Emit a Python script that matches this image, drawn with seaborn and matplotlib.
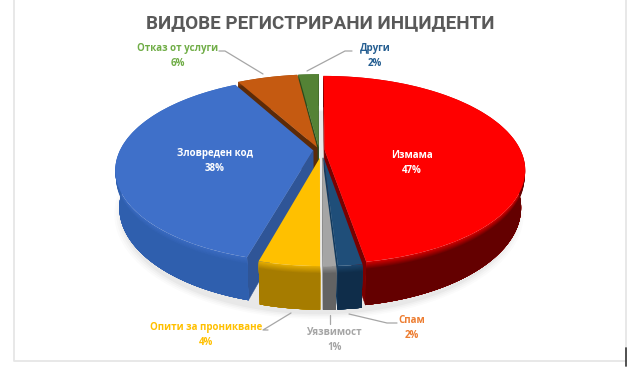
import numpy as np
import matplotlib
matplotlib.use("Agg")
import matplotlib.pyplot as plt
import seaborn as sns
from matplotlib.transforms import Transform
from matplotlib.colors import to_rgb

categories = ["Измама", "Спам", "Уязвимост", "Опити за проникване", "Зловреден код", "Отказ от услуги", "Други"]
values = [47.4, 1.7, 0.9, 4.3, 37.7, 6.0, 2.0]
percent_labels = ["47%", "2%", "1%", "4%", "38%", "6%", "2%"]
explode = [0.028, 0.085, 0.085, 0.085, 0.03, 0.03, 0.03]
radii = [1.0, 0.93, 0.93, 0.93, 0.985, 1.0, 1.0]
nudge = [0.0, 0.014, 0.014, 0.016, 0.0, 0.0, 0.0]
top_colors = ["#FF0000", "#1F4E79", "#A5A5A5", "#FFC000", "#3F70C9", "#C55A11", "#548235"]
wall_colors = ["#640000", "#0F2D4A", "#636363", "#A67C00", "#2F5FAE", "#5C2A08", "#2D4A1C"]
cut_colors = ["#7A0000", "#123A5E", "#7A7A7A", "#B88A00", "#2F5597", "#5C2A08", "#2D4A1C"]
label_colors = ["#FFFFFF", "#ED7D31", "#A5A5A5", "#FFC000", "#FFFFFF", "#70AD47", "#255E91"]
label_xy = [(412, 163), (412, 328), (335, 340), (206, 335), (215, 161), (178, 56), (375, 56)]
leaders = [None,
           [(397, 323), (387, 323), (349, 314)],
           [(330, 324), (330, 315)],
           [(268, 330), (263, 330), (291, 313)],
           None,
           [(219, 51), (225, 51), (263, 74)],
           [(352, 51), (345, 51), (307, 71)]]
draw_order = [6, 5, 4, 0, 1, 2, 3]

CX, CY, B, A, K, H, F = 319.0, 150.0, 196.0, 89.7, 0.213, 36.0, 0.98


def project(x, y, z=0.0):
    x, y = np.asarray(x, float), np.asarray(y, float)
    v = -y
    d = 1 - K * v
    f = 1 - (1 - F) * z
    return CX + f * B * x / d, CY + f * A * v / d + z * H / d


class Perspective(Transform):
    input_dims = output_dims = 2
    is_separable = False
    has_inverse = False

    def transform_non_affine(self, values):
        px, py = project(values[:, 0], values[:, 1])
        return np.column_stack([px, py])


def blend(a, b, t):
    a, b = np.array(to_rgb(a)), np.array(to_rgb(b))
    return tuple(a * (1 - t) + b * t)


sns.set_theme(style="white")
plt.rcParams["font.family"] = ["Open Sans", "DejaVu Sans"]
palette = sns.color_palette(top_colors)

fig = plt.figure(figsize=(6.38, 3.83), dpi=100, facecolor="white")
ax = fig.add_axes([0, 0, 1, 1])
wedges, _ = ax.pie(values, explode=explode, colors=palette, startangle=90,
                   counterclock=False, wedgeprops={"linewidth": 0})
ax.set_aspect("auto")
ax.set_xlim(0, 638)
ax.set_ylim(383, 0)
ax.axis("off")

# soft shadow under the pie
ang = np.radians(np.linspace(0, 360, 181))
for grow, alpha in [(1.035, 0.015), (1.025, 0.02), (1.015, 0.025), (1.005, 0.03)]:
    sx, sy = project(grow * np.cos(ang), grow * np.sin(ang) - 0.02, 1.0)
    ax.fill(sx, sy + 3, color="black", alpha=alpha, lw=0, zorder=1)

persp = Perspective()
Z = np.array([0.0, 0.02, 0.04, 0.06, 0.08, 0.1, 0.12, 0.14, 0.16, 0.2])
for rank, i in enumerate(draw_order):
    w = wedges[i]
    base = 10 + rank * 10
    w.set_radius(radii[i])
    w.set_center((w.center[0] + nudge[i], w.center[1]))
    c0, c1 = w.center
    r = w.r
    t1, t2 = np.radians(w.theta1), np.radians(w.theta2)
    th = np.linspace(t1, t2, max(3, int((w.theta2 - w.theta1) * 1.5)))

    # radial cut walls that face the viewer
    ap = np.array(project(c0, c1))
    rims = [np.array(project(c0 + r * np.cos(t), c1 + r * np.sin(t))) for t in (t1, t2)]
    for k, t in enumerate((t1, t2)):
        e = rims[k] - ap
        n = rims[1 - k] - ap
        if (e[0] * n[1] - e[1] * n[0]) * e[0] >= 0:
            continue
        xs = np.array([c0, c0 + r * np.cos(t)])
        ys = np.array([c1, c1 + r * np.sin(t)])
        px0, py0 = project(xs, ys, 0.0)
        px1, py1 = project(xs, ys, 1.0)
        ax.fill([px0[0], px0[1], px1[1], px1[0]], [py0[0], py0[1], py1[1], py1[0]],
                color=cut_colors[i], lw=0.3, zorder=base)

    # outer rim: each band runs to the wall's foot and the next paints over it, so no seams
    xs, ys = c0 + r * np.cos(th), c1 + r * np.sin(th)
    lx, ly = project(xs, ys, 1.0)
    for j, za in enumerate(Z):
        ux, uy = project(xs, ys, za)
        col = blend(top_colors[i], wall_colors[i], min(1.0, 0.3 + za / 0.16 * 0.7))
        ax.fill(np.r_[ux, lx[::-1]], np.r_[uy, ly[::-1]], color=col, lw=0,
                zorder=base + 1 + j * 0.01)
    w.set_transform(persp + ax.transData)
    w.set_zorder(base + 2)
    w.set_clip_on(False)

for name, pct, col, (lx, ly), lead in zip(categories, percent_labels, label_colors, label_xy, leaders):
    ax.text(lx, ly, f"{name}\n{pct}", color=col, ha="center", va="center", fontsize=7.0,
            fontweight="bold", linespacing=1.38, zorder=200)
    if lead:
        ax.plot(*zip(*lead), color="#A6A6A6", lw=0.9, zorder=199)

ax.text(320, 23, "ВИДОВЕ РЕГИСТРИРАНИ ИНЦИДЕНТИ", color="#595959", ha="center", va="center",
        fontsize=13.5, fontweight="bold", family=["Roboto", "DejaVu Sans"], zorder=200)

# outline of the original chart area
ax.plot([13.5, 13.5, 625.5, 625.5], [0, 361, 361, 0], color="#E6E6E6", lw=1.3, zorder=2)
ax.plot([626, 626], [348, 366], color="#444444", lw=1.3, zorder=3)

fig.savefig("out.png", dpi=100)
